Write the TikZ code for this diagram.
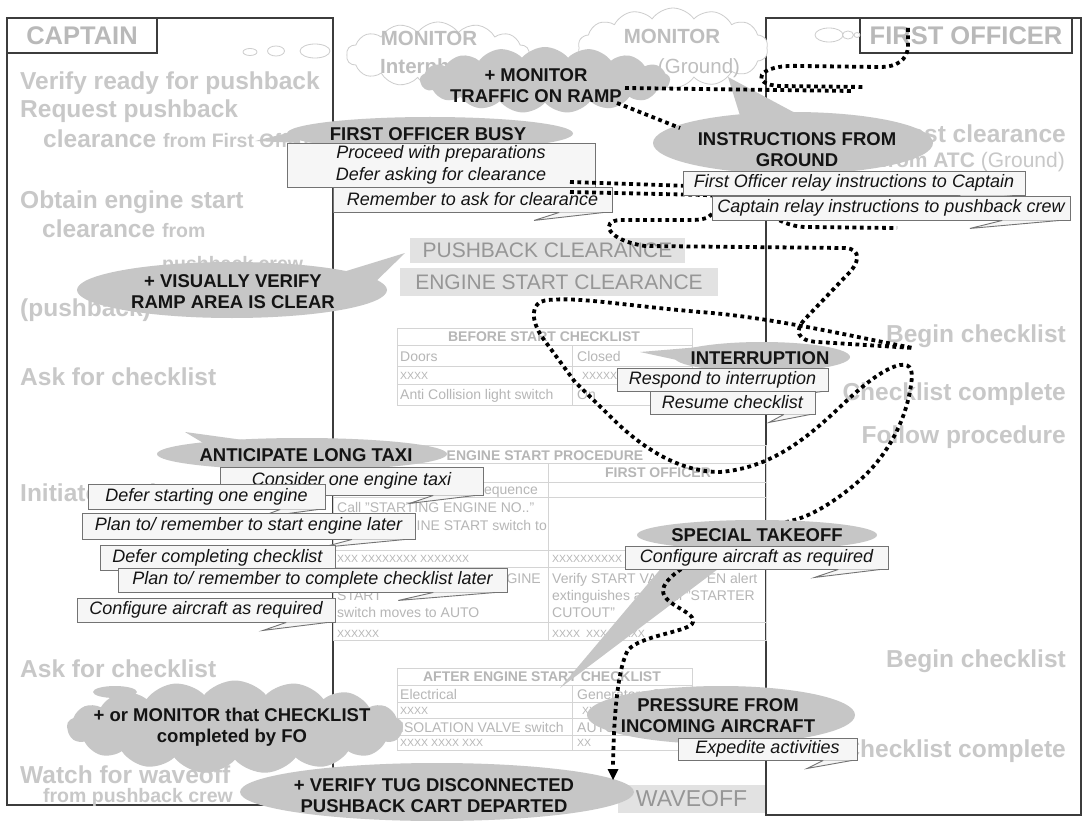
\documentclass[tikz,border=0pt]{standalone}
\usepackage{fontspec}
\setmainfont{Liberation Sans}
\usetikzlibrary{shapes.geometric,shapes.symbols,shapes.callouts,calc}
\definecolor{frameC}{RGB}{60,60,60}
\definecolor{colText}{RGB}{200,200,200}
\definecolor{lblText}{RGB}{185,185,185}
\definecolor{monText}{RGB}{190,190,190}
\definecolor{monLine}{RGB}{205,205,205}
\definecolor{bubFill}{RGB}{198,198,198}
\definecolor{boxFill}{RGB}{246,246,246}
\definecolor{boxLine}{RGB}{115,115,115}
\definecolor{clrFill}{RGB}{226,226,226}
\definecolor{clrText}{RGB}{150,150,150}
\definecolor{tblLine}{RGB}{212,212,212}
\definecolor{tblText}{RGB}{182,182,182}
\definecolor{ink}{RGB}{20,20,20}
\tikzset{
 frameln/.style={draw=frameC, line width=1.3pt},
 lblbox/.style={draw=frameC, line width=1.3pt, inner sep=0, text=lblText, font=\fontsize{25.5}{30}\selectfont\bfseries},
 coltext/.style={inner sep=0, text=colText, font=\fontsize{24.5}{29}\selectfont\bfseries},
 colsmall/.style={inner sep=0, text=colText, font=\fontsize{19.5}{23}\selectfont\bfseries},
 montext/.style={inner sep=0, text=monText, font=\fontsize{20.5}{24}\selectfont\bfseries},
 moncloud/.style={cloud, cloud puffs=14, cloud puff arc=110, cloud ignores aspect, draw=monLine, line width=0.8pt, fill=white, inner sep=0},
 thought/.style={draw=monLine, line width=0.8pt, fill=white},
 bubble/.style={ellipse, fill=bubFill, inner sep=0},
 bubcloud/.style={cloud, cloud puffs=17, cloud puff arc=100, cloud ignores aspect, fill=bubFill, inner sep=0},
 bubtext/.style={inner sep=0, text=ink, align=center, font=\fontsize{18.5}{21}\selectfont\bfseries},
 cbox/.style={rectangle, draw=boxLine, fill=boxFill, line width=0.9pt, inner sep=0, text=ink, align=center, font=\fontsize{18}{22}\selectfont\itshape},
 clrbox/.style={rectangle, fill=clrFill, inner sep=0, text=clrText, font=\fontsize{21}{25}\selectfont},
 tbl/.style={draw=tblLine, line width=1pt},
 tbltext/.style={inner sep=0, text=tblText, font=\fontsize{14}{17}\selectfont},
 tblhead/.style={inner sep=0, text=tblText, font=\fontsize{14}{17}\selectfont\bfseries},
 tblx/.style={inner sep=0, text=tblText, font=\fontsize{10.5}{12}\selectfont},
 dotline/.style={draw=black, line width=3.8pt, dash pattern=on 3.8pt off 3.6pt},
}
\newcommand\boxtail[1]{%
  \path let \p1=(#1.south west), \p2=(#1.south east), \n1={\x2-\x1} in
    coordinate (#1-ta) at (\x2-0.28*\n1,\y1-8pt)
    coordinate (#1-tb) at (\x2-0.19*\n1,\y1)
    coordinate (#1-tc) at (\x2-0.03*\n1,\y1);
  \fill[boxFill] (#1-ta) -- (#1-tb) -- (#1-tc) -- cycle;
  \draw[boxLine, line width=0.9pt] (#1-tb) -- (#1-ta) -- (#1-tc);
}
\begin{document}
\begin{tikzpicture}[x=1pt,y=-1pt]
\useasboundingbox (0,0) rectangle (1089,821);
\fill[white] (0,0) rectangle (1089,821);

% ---- frames
\draw[frameln] (7,18) rectangle (333,805);
\draw[frameln] (766,18) rectangle (1081,815);
\node[lblbox, minimum width=150, minimum height=35] (capL) at (82,35.5) {CAPTAIN};
\node[lblbox, minimum width=212, minimum height=35] (foL) at (966,35.5) {FIRST OFFICER};

% ---- captain column
\node[coltext, anchor=base west] (c1) at (20,90) {Verify ready for pushback};
\node[coltext, anchor=base west] (c2) at (20,118) {Request pushback};
\node[coltext, anchor=base west] (c3) at (43,148) {clearance {\fontsize{19.5}{23}\selectfont from First Officer}};
\node[coltext, anchor=base west] (c4) at (20,208) {Obtain engine start};
\node[coltext, anchor=base west] (c5) at (42,237) {clearance {\fontsize{19.5}{23}\selectfont from}};
\node[colsmall, anchor=base west] (c6) at (162,270) {pushback crew};
\node[coltext, anchor=base west] (c7) at (20,316) {(pushback)};
\node[coltext, anchor=base west] (c8) at (20,385) {Ask for checklist};
\node[coltext, anchor=base west] (c9) at (20,501) {Initiate engine start};
\node[coltext, anchor=base west] (c10) at (20,677) {Ask for checklist};
\node[coltext, anchor=base west] (c11) at (20,783) {Watch for waveoff};
\node[colsmall, anchor=base east] (c12) at (233,802) {from pushback crew};

% ---- first officer column
\node[coltext, anchor=base east] (f1) at (1066,143) {Request clearance};
\node[colsmall, anchor=base east, font=\fontsize{21}{25}\selectfont\bfseries] (f2) at (1065,168) {from ATC {\mdseries (Ground)}};
\node[coltext, anchor=base east] (f3) at (1066,342) {Begin checklist};
\node[coltext, anchor=base east] (f4) at (1066,400) {Checklist complete};
\node[coltext, anchor=base east] (f5) at (1066,443) {Follow procedure};
\node[coltext, anchor=base east] (f6) at (1066,667) {Begin checklist};
\node[coltext, anchor=base east] (f7) at (1066,757) {Checklist complete};

% ---- thought bubbles and monitor clouds
\draw[thought] (250,52) ellipse [x radius=7, y radius=3.5];
\draw[thought] (276,51) ellipse [x radius=8.5, y radius=5];
\draw[thought] (315,51) ellipse [x radius=15, y radius=7];
\draw[thought] (829,35) ellipse [x radius=14, y radius=7];
\draw[thought] (848,35) ellipse [x radius=5.5, y radius=4];
\draw[thought] (857,35) ellipse [x radius=3, y radius=2.5];
\node[moncloud, minimum width=183, minimum height=66] (mon1) at (438,55) {};
\node[moncloud, minimum width=190, minimum height=80] (mon2) at (673,48) {};
\node[montext] (mon1a) at (429,38) {MONITOR};
\node[montext, anchor=base west] (mon1b) at (380,74) {Interphone};
\node[montext] (mon2a) at (672,36) {MONITOR};
\node[montext, font=\fontsize{20.5}{24}\selectfont, anchor=base] (mon2b) at (699,74) {(Ground)};

% ---- before start checklist
\draw[tbl] (397,328) rectangle (692,405);
\draw[tbl] (397,345) -- (692,345) (397,366) -- (692,366) (397,384) -- (692,384) (572,345) -- (572,405);
\node[tblhead] (bsT) at (544,337) {BEFORE START CHECKLIST};
\node[tbltext, anchor=base west] (bs1a) at (400,361) {Doors};
\node[tbltext, anchor=base west] (bs1b) at (577,361) {Closed};
\node[tblx, anchor=base west] (bs2a) at (400,379) {XXXX};
\node[tblx, anchor=base west] (bs2b) at (582,379) {XXXXX};
\node[tbltext, anchor=base west] (bs3a) at (400,399.5) {Anti Collision light switch};
\node[tbltext, anchor=base west] (bs3b) at (577,399.5) {On};

% ---- engine start procedure
\draw[tbl] (333,445) rectangle (766,640);
\draw[tbl] (333,463) -- (766,463) (333,482) -- (766,482) (333,497) -- (766,497) (333,550) -- (766,550) (333,567) -- (766,567) (333,622) -- (766,622) (548,463) -- (548,640);
\node[tblhead] (esT) at (545,456) {ENGINE START PROCEDURE};
\node[tblhead] (esFO) at (658,472.5) {FIRST OFFICER};
\node[tbltext, anchor=base east] (es1a) at (538,494) {sequence};
\node[tbltext, anchor=base west] (es2a) at (337,512) {Call "STARTING ENGINE NO.."};
\node[tbltext, anchor=base east] (es2b) at (547,530) {ENGINE START switch to};
\node[tblx, anchor=base west] (es3a) at (337,562) {XXX XXXXXXXX XXXXXXX};
\node[tblx, anchor=base west] (es3b) at (552,562) {XXXXXXXXXX};
\node[tbltext, anchor=base east] (es4a) at (541,583) {ENGINE};
\node[tbltext, anchor=base west] (es4b) at (337,600) {START};
\node[tbltext, anchor=base west] (es4c) at (337,617) {switch moves to AUTO};
\node[tbltext, anchor=base west] (es4d) at (552,583) {Verify START VALVE OPEN alert};
\node[tbltext, anchor=base west] (es4e) at (552,600) {extinguishes and call "STARTER};
\node[tbltext, anchor=base west] (es4f) at (552,617) {CUTOUT"};
\node[tblx, anchor=base west] (es5a) at (337,637) {XXXXXX};
\node[tblx, anchor=base west] (es5b) at (552,637) {XXXX\ \ XXX XXXXX};

% ---- after engine start checklist
\draw[tbl] (397,668) rectangle (692,750);
\draw[tbl] (397,685) -- (692,685) (397,702) -- (692,702) (397,718) -- (692,718) (397,735) -- (692,735) (572,685) -- (572,750);
\node[tblhead] (aeT) at (542,676.5) {AFTER ENGINE START CHECKLIST};
\node[tbltext, anchor=base west] (ae1a) at (400,699) {Electrical};
\node[tbltext, anchor=base west] (ae1b) at (577,699) {Generators ON};
\node[tblx, anchor=base west] (ae2a) at (400,714) {XXXX};
\node[tblx, anchor=base west] (ae2b) at (582,714) {XX};
\node[tbltext, anchor=base west] (ae3a) at (400,732) {ISOLATION VALVE switch};
\node[tbltext, anchor=base west] (ae3b) at (577,732) {AUTO};
\node[tblx, anchor=base west] (ae4a) at (400,746) {XXXX XXXX XXX};
\node[tblx, anchor=base west] (ae4b) at (577,746) {XX};

% ---- clearance boxes
\node[clrbox, minimum width=275, minimum height=25] (pbc) at (547.5,250.5) {PUSHBACK CLEARANCE};
\node[clrbox, minimum width=318, minimum height=28] (esc) at (559,282) {ENGINE START CLEARANCE};
\node[clrbox, minimum width=147, minimum height=28, font=\fontsize{23}{27}\selectfont] (wo) at (691.5,799) {WAVEOFF};

% ---- grey bubbles
\node[bubcloud, minimum width=250, minimum height=66] (traffic) at (545,80) {};
\node[bubtext] (trafficT) at (536,86) {+ MONITOR\\TRAFFIC ON RAMP};

\fill[bubFill] (255,141) -- (300,130) -- (300,143) -- cycle;
\node[bubble, minimum width=286, minimum height=33] (busy) at (430,133.5) {};
\node[bubtext] (busyT) at (428,134) {FIRST OFFICER BUSY};

\fill[bubFill] (728,77) -- (742,122) -- (797,114) -- cycle;
\node[bubble, minimum width=280, minimum height=62] (instr) at (793,143) {};
\node[bubtext] (instrT) at (797,150) {INSTRUCTIONS FROM\\GROUND};

\fill[bubFill] (405,253) -- (330,276) -- (365,292) -- cycle;
\node[bubble, minimum width=310, minimum height=56] (visual) at (232,290) {};
\node[bubtext] (visualT) at (233,292) {+ VISUALLY VERIFY\\RAMP AREA IS CLEAR};

\fill[bubFill] (640,352) -- (700,347) -- (700,365) -- cycle;
\node[bubble, minimum width=176, minimum height=30] (interr) at (762,357) {};
\node[bubtext] (interrT) at (760,358) {INTERRUPTION};

\fill[bubFill] (185,432) -- (215,450) -- (265,443) -- cycle;
\node[bubble, minimum width=290, minimum height=32] (taxi) at (302,454) {};
\node[bubtext] (taxiT) at (306,455) {ANTICIPATE LONG TAXI};

\fill[bubFill] (115,692) ellipse [x radius=22, y radius=6];
\node[bubcloud, minimum width=336, minimum height=93] (chkmon) at (235,727) {};
\node[bubtext] (chkmonT) at (232,727) {+ or MONITOR that CHECKLIST\\completed by FO};

\node[bubble, minimum width=268, minimum height=58] (press) at (721,715) {};
\node[bubtext] (pressT) at (718,716) {PRESSURE FROM\\INCOMING AIRCRAFT};

\node[bubble, minimum width=394, minimum height=58] (tug) at (437,792) {};
\node[bubtext] (tugT) at (434,796) {+ VERIFY TUG DISCONNECTED\\PUSHBACK CART DEPARTED};

\fill[bubFill] (560,688) -- (663,566) -- (722,566) -- cycle;

% ---- first officer busy boxes
\node[cbox, minimum width=308, minimum height=44] (b1) at (441,165) {Proceed with preparations\\Defer asking for clearance};
\boxtail{b1}
\node[cbox, minimum width=279, minimum height=25] (b2) at (472.5,199.5) {Remember to ask for clearance};
\boxtail{b2}

% ---- dotted route
\draw[dotline] (908,28) -- (908,47) .. controls (907,60) and (897,67) .. (880,67) -- (800,66) .. controls (755,64) and (750,85) .. (780,86) -- (863,87);
\draw[dotline] (625,88) -- (853,91);
\draw[dotline] (617,103) -- (680,128);
\draw[dotline] (570,182) -- (690,186);
\draw[dotline] (570,192) -- (705,195) .. controls (760,198) and (772,226) .. (805,227) -- (897,228);
\draw[dotline] (712,214) .. controls (708,219) and (700,220) .. (690,220) -- (620,220)
  .. controls (600,221) and (606,240) .. (645,246) -- (845,248)
  .. controls (862,249) and (860,263) .. (846,276) -- (806,318)
  .. controls (794,330) and (796,341) .. (818,342) -- (913,348)
  .. controls (850,336) and (770,317) .. (700,312)
  .. controls (620,305) and (580,297) .. (548,300)
  .. controls (528,302) and (532,322) .. (542,337) -- (575,382) -- (618,424)
  .. controls (645,449) and (680,472) .. (720,472)
  .. controls (770,468) and (805,440) .. (840,407)
  .. controls (865,383) and (885,368) .. (900,365)
  .. controls (912,363) and (913,372) .. (911,385)
  .. controls (906,420) and (888,455) .. (860,480)
  .. controls (835,502) and (810,517) .. (790,521)
  .. controls (730,540) and (665,570) .. (663,590)
  .. controls (662,606) and (700,612) .. (692,624)
  .. controls (685,632) and (640,636) .. (628,650)
  .. controls (620,664) and (614,700) .. (613,766);
\fill[black] (607.5,769) -- (618.5,769) -- (613,780) -- cycle;

% ---- special takeoff
\node[bubble, minimum width=240, minimum height=30] (special) at (757,535) {};
\node[bubtext] (specialT) at (757,535.5) {SPECIAL TAKEOFF};
\node[cbox, minimum width=263, minimum height=23] (b13) at (756.5,557.5) {Configure aircraft as required};
\boxtail{b13}

% ---- remaining callout boxes
\node[cbox, minimum width=342, minimum height=24] (b3) at (854,183) {First Officer relay instructions to Captain};
\boxtail{b3}
\node[cbox, minimum width=358, minimum height=24] (b4) at (891,208) {Captain relay instructions to pushback crew};
\boxtail{b4}
\node[cbox, minimum width=211, minimum height=23] (b5) at (722.5,379.5) {Respond to interruption};
\boxtail{b5}
\node[cbox, minimum width=165, minimum height=23] (b6) at (732.5,402.5) {Resume checklist};
\boxtail{b6}
\node[cbox, minimum width=263, minimum height=28] (b7) at (351.5,481) {Consider one engine taxi};
\boxtail{b7}
\node[cbox, minimum width=237, minimum height=25] (b8) at (206.5,496.5) {Defer starting one engine};
\boxtail{b8}
\node[cbox, minimum width=333, minimum height=26] (b9) at (248.5,526) {Plan to/ remember to start engine later};
\boxtail{b9}
\node[cbox, minimum width=235, minimum height=25] (b10) at (217.5,557.5) {Defer completing checklist};
\boxtail{b10}
\node[cbox, minimum width=389, minimum height=24] (b11) at (312.5,580) {Plan to/ remember to complete checklist later};
\boxtail{b11}
\node[cbox, minimum width=258, minimum height=24] (b12) at (206,610) {Configure aircraft as required};
\boxtail{b12}
\node[cbox, minimum width=179, minimum height=22] (b14) at (767.5,749) {Expedite activities};
\boxtail{b14}
\end{tikzpicture}
\end{document}
